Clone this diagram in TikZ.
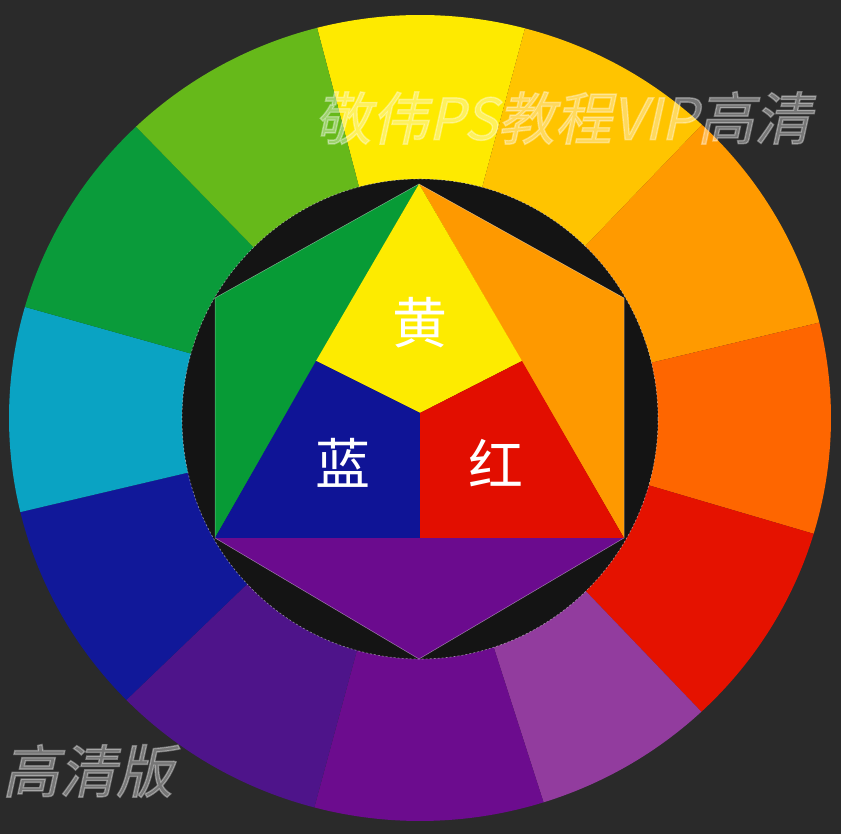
\documentclass[tikz,border=0pt]{standalone}
\usepackage{fontspec}
\newfontfamily\cjk{Noto Sans CJK SC}
\newfontfamily\wmfont{Noto Sans CJK SC}[FakeBold=2.5,FakeSlant=0.22]
\definecolor{bgc}{HTML}{2A2A2A}
\definecolor{hole}{HTML}{141414}
\definecolor{cY}{HTML}{FEEA00}
\definecolor{cYO}{HTML}{FFC400}
\definecolor{cO}{HTML}{FF9A00}
\definecolor{cRO}{HTML}{FE6600}
\definecolor{cR}{HTML}{E51200}
\definecolor{cRV}{HTML}{923C9E}
\definecolor{cV}{HTML}{6C0C8E}
\definecolor{cBV}{HTML}{4E148A}
\definecolor{cB}{HTML}{111899}
\definecolor{cC}{HTML}{0AA3C3}
\definecolor{cG}{HTML}{0A9B3A}
\definecolor{cYG}{HTML}{66B91A}
\definecolor{iY}{HTML}{FDEB00}
\definecolor{iR}{HTML}{E20E00}
\definecolor{iB}{HTML}{0F1496}
\definecolor{iG}{HTML}{079B36}
\definecolor{iO}{HTML}{FE9900}
\definecolor{iV}{HTML}{6B0B8E}
\tikzset{
  lbl/.style={text=white,font=\cjk\fontsize{55}{60}\selectfont,inner sep=0pt},
  wm/.style={text=white,text opacity=0.36,font=\wmfont\fontsize{57}{62}\selectfont,inner sep=0pt,anchor=west},
}
\newcommand{\seg}[3]{\fill[#3] (C) -- ([shift={(#1:411pt and 403pt)}]C) arc[start angle=#1,end angle=#2,x radius=411pt,y radius=403pt] -- cycle;}
\begin{document}
\begin{tikzpicture}[x=1pt,y=1pt]
\useasboundingbox (0,0) rectangle (841,834);
\fill[bgc] (0,0) rectangle (841,834);
\coordinate (C) at (420,416);
% outer ring
\seg{75.2}{104.5}{cY}
\seg{46.7}{75.2}{cYO}
\seg{13.7}{46.7}{cO}
\seg{-16.7}{13.7}{cRO}
\seg{-46.8}{-16.7}{cR}
\seg{-72.5}{-46.8}{cRV}
\seg{-104.9}{-72.5}{cV}
\seg{-135.6}{-104.9}{cBV}
\seg{-166.5}{-135.6}{cB}
\seg{164}{193.5}{cC}
\seg{133.7}{164}{cG}
\seg{104.5}{133.7}{cYG}
% inner hole
\fill[hole] (420,415) ellipse[x radius=238pt,y radius=240pt];
\draw[white,opacity=0.5,line width=0.6pt,dash pattern=on 2pt off 2pt] (420,415) ellipse[x radius=238pt,y radius=240pt];
% hexagon points
\coordinate (T) at (419,650);
\coordinate (UL) at (215,536);
\coordinate (LL) at (215,296);
\coordinate (B) at (419,175);
\coordinate (LR) at (624,296);
\coordinate (UR) at (624,536);
\coordinate (ML) at (316,473);
\coordinate (MR) at (522,473);
\coordinate (MB) at (420,296);
\coordinate (G) at (420,421);
\fill[iG] (T) -- (UL) -- (LL) -- cycle;
\fill[iO] (T) -- (UR) -- (LR) -- cycle;
\fill[iV] (LL) -- (B) -- (LR) -- cycle;
\fill[iY] (T) -- (ML) -- (G) -- (MR) -- cycle;
\fill[iB] (LL) -- (ML) -- (G) -- (MB) -- cycle;
\fill[iR] (LR) -- (MR) -- (G) -- (MB) -- cycle;
\draw[white,opacity=0.45,line width=0.5pt] (T) -- (UL) -- (LL) -- (B) -- (LR) -- (UR) -- cycle;
% labels
\node[lbl] (huang) at (420,511) {黄};
\node[lbl] (lan) at (343,371) {蓝};
\node[lbl] (hong) at (496,371) {红};
% watermarks
\node[wm] (wm1) at (314,716) {敬伟PS教程VIP高清};
\node[wm] (wm2) at (2,63) {高清版};
\end{tikzpicture}
\end{document}
